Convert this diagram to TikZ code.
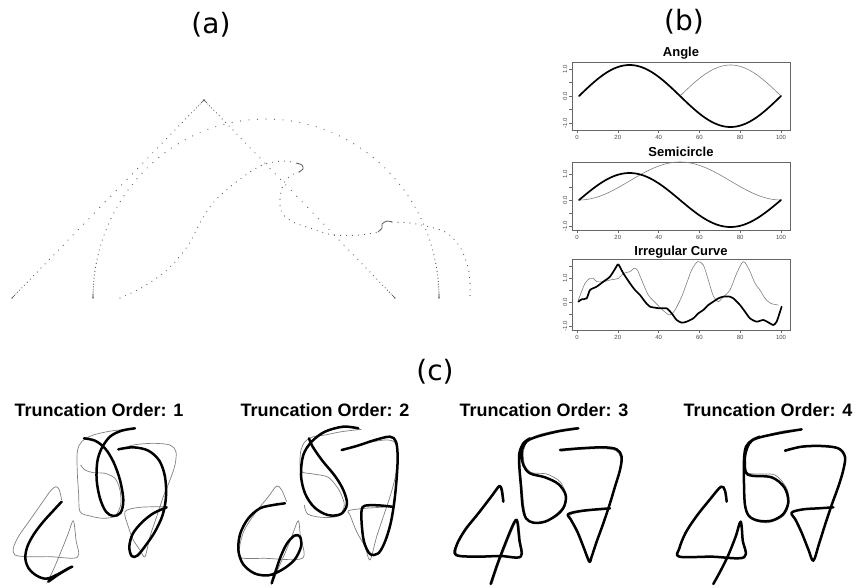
\documentclass[tikz,border=0pt]{standalone}
\usepackage{fontspec}
\setmainfont{DejaVu Sans}
\newfontfamily\rfont{Liberation Sans}
\tikzset{
  paneltitle/.style={font=\fontsize{28}{32}\selectfont, inner sep=0pt},
  plottitle/.style={font=\rfont\bfseries\fontsize{13}{15}\selectfont, inner sep=0pt},
  ordertitle/.style={font=\rfont\bfseries\fontsize{18}{20}\selectfont, inner sep=0pt},
  ticklab/.style={font=\rfont\fontsize{6}{7}\selectfont, text=black!70, inner sep=0pt},
  plotframe/.style={draw=black!60, line width=0.5pt},
  tickln/.style={draw=black!60, line width=0.4pt},
  fitcurve/.style={black, line width=1.7pt, line join=round, line cap=round},
  refcurve/.style={black!50, line width=0.6pt, line join=round},
  digit/.style={black, line width=2.5pt, line join=round, line cap=round},
  digitref/.style={black!50, line width=0.7pt, line join=round},
  dotfill/.style={fill=black!65},
  dotline/.style={draw=black!65, line width=1.2pt, line cap=round, dash pattern=on 0pt off 6pt},
}
\begin{document}
\begin{tikzpicture}[x=1pt,y=-1pt]
\useasboundingbox (0,0) rectangle (856,587);
\fill[white] (0,0) rectangle (856,587);

% ---------- panel labels ----------
\node[paneltitle] (lbla) at (211,25) {(a)};
\node[paneltitle] (lblb) at (684,22) {(b)};
\node[paneltitle] (lblc) at (435,372) {(c)};

% ---------- (a) sampled curves ----------
% angle: two straight legs, points crowd at the ends and at the apex
\foreach \i in {0,...,55}{
  \fill[dotfill] ({12+96*(1-cos(3.2727*\i))},{298-99*(1-cos(3.2727*\i))}) circle (0.6pt);
  \fill[dotfill] ({204+95.5*(1-cos(3.2727*\i))},{100+99*(1-cos(3.2727*\i))}) circle (0.6pt);
}
% semicircle, points crowd at both feet
\foreach \i in {0,...,100}{
  \fill[dotfill] ({266+173*cos(90*(1+cos(1.8*\i)))},{298-179*sin(90*(1+cos(1.8*\i)))}) circle (0.6pt);
}
% irregular curve
\draw[dotline] plot[smooth, tension=0.55] coordinates {
  (120,298) (143,287) (167,270) (187,247) (200,223) (213,203) (230,187)
  (250,172) (265,164) (283,161) (296,163)};
\draw[black!65, line width=0.8pt] plot[smooth] coordinates {(296,163) (302,165) (303,169) (299,172)};
\draw[dotline] plot[smooth, tension=0.55] coordinates {
  (299,172) (290,176) (283,185) (280,200) (282,213) (293,222) (310,228) (333,235)
  (360,235) (378,232)};
\draw[black!65, line width=0.8pt] plot[smooth] coordinates {(378,232) (382,228) (382,224) (387,221) (392,222)};
\draw[dotline] plot[smooth, tension=0.55] coordinates {
  (392,222) (410,223) (430,227) (447,233) (460,247) (468,267) (470,285) (470,298)};

% ---------- (b) plot 1: Angle ----------
\node[plottitle] (tang) at (681,53) {Angle};
\draw[plotframe] (572,62) rectangle (790,130);
\draw[refcurve] plot[domain=1:100, samples=100] ({577+2.04*\x},{96-31*abs(sin(3.6364*(\x-1)))});
\draw[fitcurve] plot[domain=1:100, samples=100] ({577+2.04*\x},{96-31*sin(3.6364*(\x-1))});
\foreach \t in {0,20,...,100}{
  \draw[tickln] ({577+2.04*\t},130) -- ({577+2.04*\t},133);
  \node[ticklab] (xa\t) at ({577+2.04*\t},137) {\t};
}
\foreach \v in {-1,-0.5,0,0.5,1}{\draw[tickln] (569,{96-27*\v}) -- (572,{96-27*\v});}
\node[ticklab, rotate=90] (ya1) at (565,69) {1.0};
\node[ticklab, rotate=90] (ya2) at (565,96) {0.0};
\node[ticklab, rotate=90] (ya3) at (565,123) {-1.0};

% ---------- (b) plot 2: Semicircle ----------
\node[plottitle] (tsemi) at (681,152) {Semicircle};
\draw[plotframe] (572,162) rectangle (790,230);
\draw[refcurve] plot[domain=1:100, samples=100] ({577+2.04*\x},{200-19*(1-cos(3.6364*(\x-1)))});
\draw[fitcurve] plot[domain=1:100, samples=100] ({577+2.04*\x},{200-27*sin(3.6364*(\x-1))});
\foreach \t in {0,20,...,100}{
  \draw[tickln] ({577+2.04*\t},230) -- ({577+2.04*\t},233);
  \node[ticklab] (xb\t) at ({577+2.04*\t},237) {\t};
}
\foreach \v in {-1,-0.5,0,0.5,1}{\draw[tickln] (569,{200-26*\v}) -- (572,{200-26*\v});}
\node[ticklab, rotate=90] (yb1) at (565,174) {1.0};
\node[ticklab, rotate=90] (yb2) at (565,200) {0.0};
\node[ticklab, rotate=90] (yb3) at (565,226) {-1.0};

% ---------- (b) plot 3: Irregular Curve ----------
\node[plottitle] (tirr) at (681,252) {Irregular Curve};
\draw[plotframe] (572,259) rectangle (790,330);
\foreach \t in {0,20,...,100}{
  \draw[tickln] ({577+2.04*\t},330) -- ({577+2.04*\t},333);
  \node[ticklab] (xc\t) at ({577+2.04*\t},337) {\t};
}
\foreach \v in {-1,-0.5,0,0.5,1,1.5}{\draw[tickln] (569,{302-24*\v}) -- (572,{302-24*\v});}
\node[ticklab, rotate=90] (yc1) at (565,278) {1.0};
\node[ticklab, rotate=90] (yc2) at (565,302) {0.0};
\node[ticklab, rotate=90] (yc3) at (565,326) {-1.0};
\begin{scope}[xshift=560pt, yshift=-240pt, x=0.3333pt, y=-0.3333pt]
  \draw[refcurve] plot[smooth, tension=0.5] coordinates {
    (55,180) (75,130) (90,115) (100,115) (110,125) (130,125) (150,120) (175,115)
    (190,100) (210,95) (222,85) (232,90) (245,120) (265,165) (290,192) (310,212)
    (330,225) (345,210) (365,170) (380,130) (395,90) (413,65) (430,75) (445,120)
    (460,168) (475,185) (490,170) (510,150) (530,100) (550,65) (568,90) (585,130)
    (600,150) (615,175) (632,190) (655,195)};
  \draw[fitcurve] plot[smooth, tension=0.4] coordinates {
    (55,185) (65,178) (80,175) (90,150) (110,140) (130,125) (150,110) (168,82)
    (175,73) (190,100) (210,130) (225,150) (240,165) (255,185) (270,200) (300,205)
    (320,205) (335,220) (350,240) (365,248) (380,245) (400,235) (415,220) (430,210)
    (445,195) (460,185) (475,175) (490,170) (510,170) (520,175) (540,195) (555,215)
    (570,235) (590,245) (610,240) (630,250) (640,255) (650,245) (665,200)};
\end{scope}

% ---------- (c) truncation orders ----------
\node[ordertitle] (tord1) at (99,410) {Truncation Order: 1};
\node[ordertitle] (tord2) at (325,410) {Truncation Order: 2};
\node[ordertitle] (tord3) at (544,410) {Truncation Order: 3};
\node[ordertitle] (tord4) at (768,410) {Truncation Order: 4};

% order 1
\begin{scope}[xshift=0pt, yshift=-390pt, x=0.3333pt, y=-0.3333pt]
  \draw[digitref] plot[smooth, tension=0.5] coordinates {
    (185,330) (178,300) (168,290) (152,302) (125,340) (90,390) (55,440) (40,475)
    (45,495) (80,500) (150,500) (232,502) (228,450) (220,392) (205,430) (185,480)
    (162,535) (140,580)};
  \draw[digitref] plot[smooth, tension=0.5] coordinates {
    (400,118) (340,122) (280,135) (245,155) (232,185) (232,250) (236,310) (240,365)
    (270,378) (310,385) (345,378) (362,345) (360,300) (345,265) (315,250) (280,248)
    (255,240) (242,225)};
  \draw[digitref] plot[smooth, tension=0.5] coordinates {
    (355,180) (400,165) (460,160) (510,165) (528,185) (525,225) (510,270) (490,320)
    (470,380) (450,440) (435,500) (420,480) (400,450) (385,410) (375,365) (420,352)
    (500,350)};
  \draw[digit] plot[smooth, tension=0.55] coordinates {
    (185,335) (160,362) (130,395) (102,432) (82,470) (76,505) (86,535) (110,557)
    (140,566) (175,552) (205,535) (217,530) (205,536) (175,554) (145,575)};
  \draw[digit] plot[smooth, tension=0.55] coordinates {
    (252,145) (285,152) (315,175) (340,215) (360,270) (370,330) (362,368) (340,378)
    (318,365) (300,325) (290,270) (292,215) (305,175) (330,140) (365,122) (405,115)};
  \draw[digit] plot[smooth, tension=0.55] coordinates {
    (355,178) (400,172) (445,182) (478,212) (495,260) (498,320) (488,375) (465,425)
    (438,465) (412,497) (395,498) (388,470) (398,432) (425,398) (460,370) (500,352)};
\end{scope}

% order 2
\begin{scope}[xshift=215pt, yshift=-390pt, x=0.3333pt, y=-0.3333pt]
  \draw[digitref] plot[smooth, tension=0.5] coordinates {
    (215,335) (200,300) (185,288) (160,320) (120,370) (88,420) (74,470) (78,503)
    (150,505) (262,505) (256,440) (250,392) (232,435) (212,485) (190,535) (172,580)};
  \draw[digitref] plot[smooth, tension=0.5] coordinates {
    (440,118) (380,125) (330,135) (295,140) (270,155) (258,180) (255,215) (260,245)
    (295,252) (340,262) (372,300) (388,345) (370,378) (320,382) (278,372) (268,345)};
  \draw[digitref] plot[smooth, tension=0.5] coordinates {
    (380,180) (440,162) (510,150) (540,158) (548,200) (540,265) (525,320) (505,380)
    (485,440) (465,510) (450,470) (425,425) (405,375) (400,362) (450,355) (530,350)};
  \draw[digit] plot[smooth, tension=0.55] coordinates {
    (210,340) (175,345) (135,355) (100,385) (76,430) (70,480) (84,522) (118,550)
    (160,556) (200,540) (238,510) (258,470) (255,440) (238,437) (215,462) (197,500)
    (183,540) (170,580)};
  \draw[digit] plot[smooth, tension=0.55] coordinates {
    (430,115) (385,110) (330,125) (290,155) (265,195) (258,255) (270,310) (298,352)
    (338,375) (378,372) (396,342) (385,300) (360,258) (322,212) (293,170) (282,145)};
  \draw[digit] plot[smooth, tension=0.55] coordinates {
    (380,180) (425,168) (480,150) (525,140) (543,155) (548,200) (545,265) (538,335)
    (527,400) (510,455) (490,490) (465,492) (447,455) (440,400) (440,360) (450,347)
    (490,346) (530,350)};
\end{scope}

% order 3
\begin{scope}[xshift=430pt, yshift=-390pt, x=0.3333pt, y=-0.3333pt]
  \draw[digitref] plot[smooth, tension=0.5] coordinates {
    (222,332) (218,298) (210,290) (188,318) (150,368) (110,418) (84,462) (82,494)
    (140,498) (212,496) (274,498) (271,450) (266,398) (258,396) (243,428) (225,473)
    (206,522) (186,582)};
  \draw[digitref] plot[smooth, tension=0.5] coordinates {
    (442,112) (388,120) (334,132) (300,146) (288,160) (280,188) (284,225) (305,248)
    (350,252) (390,275) (410,318) (404,352) (382,378) (345,396) (312,398) (290,384)
    (282,350) (276,290) (270,230) (272,188) (284,160) (302,146)};
  \draw[digitref] plot[smooth, tension=0.5] coordinates {
    (392,184) (452,178) (520,176) (558,182) (572,204) (568,244) (553,294) (538,344)
    (518,404) (498,458) (484,504) (480,512) (465,478) (446,428) (426,390) (420,375)
    (462,364) (538,358)};
  \draw[digit] plot[smooth, tension=0.55] coordinates {
    (220,335) (215,300) (208,288) (185,318) (145,370) (105,420) (80,465) (78,495)
    (140,500) (210,498) (272,500) (268,450) (262,395) (255,393) (240,425) (222,470)
    (203,520) (182,582)};
  \draw[digit] plot[smooth, tension=0.55] coordinates {
    (445,115) (390,123) (335,136) (300,148) (285,160) (275,185) (280,225) (300,250)
    (345,262) (385,282) (407,315) (402,350) (380,375) (345,395) (310,398) (288,385)
    (278,350) (273,290) (268,230) (268,190) (280,160) (300,145)};
  \draw[digit] plot[smooth, tension=0.55] coordinates {
    (390,180) (450,175) (520,172) (560,178) (575,200) (570,240) (555,290) (540,340)
    (520,400) (500,455) (485,500) (478,515) (462,475) (442,425) (422,388) (415,372)
    (460,362) (540,355)};
\end{scope}

% order 4
\begin{scope}[xshift=645pt, yshift=-390pt, x=0.3333pt, y=-0.3333pt]
  \draw[digitref] plot[smooth, tension=0.5] coordinates {
    (246,333) (241,301) (229,291) (197,328) (157,378) (124,428) (105,475) (105,499)
    (200,499) (296,501) (292,450) (286,396) (271,441) (249,496) (227,541) (204,582)};
  \draw[digitref] plot[smooth, tension=0.5] coordinates {
    (470,118) (420,122) (360,136) (325,150) (306,170) (298,205) (302,245) (330,252)
    (390,255) (425,295) (432,340) (415,378) (370,398) (330,392) (305,370) (299,330)
    (298,270) (298,210) (304,172) (322,152)};
  \draw[digitref] plot[smooth, tension=0.5] coordinates {
    (421,184) (471,172) (531,170) (579,177) (598,202) (593,242) (578,292) (558,347)
    (538,407) (520,464) (505,510) (489,478) (469,428) (451,390) (441,369) (476,359)
    (565,353)};
  \draw[digit] plot[smooth, tension=0.55] coordinates {
    (245,335) (240,302) (228,290) (195,328) (155,378) (122,428) (103,475) (103,500)
    (200,500) (297,502) (293,450) (287,395) (272,440) (250,495) (228,540) (205,582)};
  \draw[digit] plot[smooth, tension=0.55] coordinates {
    (470,118) (400,130) (335,145) (312,162) (300,200) (302,245) (320,257) (380,262)
    (418,292) (430,335) (415,372) (380,392) (340,392) (312,378) (300,345) (297,280)
    (297,210) (303,170) (322,150) (345,140)};
  \draw[digit] plot[smooth, tension=0.55] coordinates {
    (420,182) (470,170) (530,168) (580,175) (600,200) (595,240) (580,290) (560,345)
    (540,405) (522,462) (505,512) (490,478) (470,428) (452,390) (440,368) (475,358)
    (520,355) (565,352)};
\end{scope}
\end{tikzpicture}
\end{document}
